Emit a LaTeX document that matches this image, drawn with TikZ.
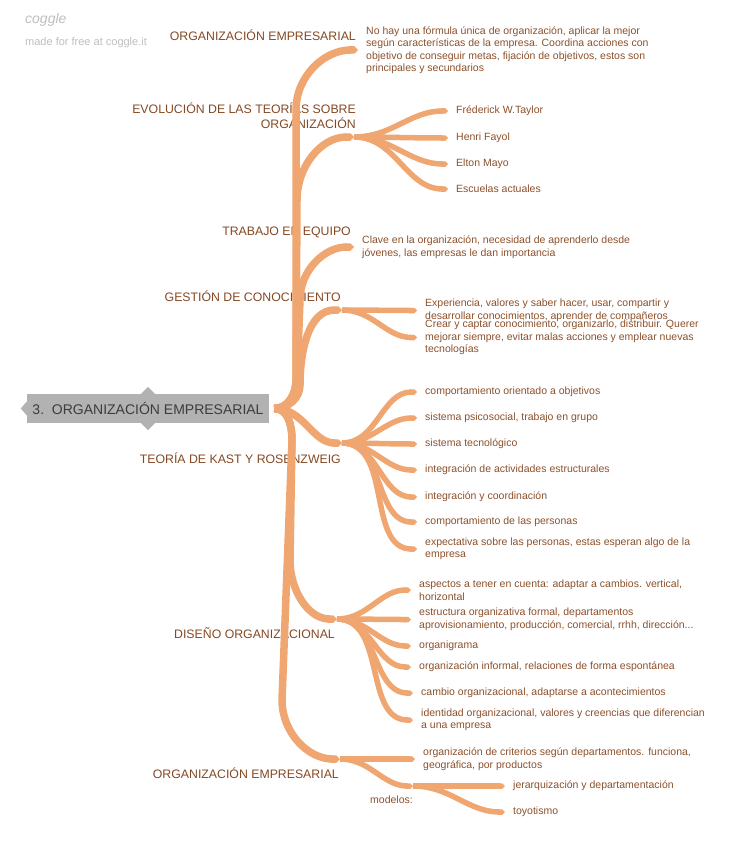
\documentclass[tikz,border=0pt]{standalone}
\usepackage{fontspec}
\setmainfont{Liberation Sans}
\usetikzlibrary{arrows.meta}

\definecolor{limbcol}{RGB}{240,166,112}
\definecolor{inkcol}{RGB}{140,80,42}
\definecolor{lblink}{RGB}{132,72,34}
\definecolor{rootgray}{RGB}{178,178,178}
\definecolor{rootink}{RGB}{60,60,60}
\definecolor{wmgray}{RGB}{190,190,190}

\begin{document}
\begin{tikzpicture}[x=1pt, y=-1pt,
	limb/.style={draw=limbcol, line width=7.5pt, -{Triangle Cap}},
	twig/.style={draw=limbcol, line width=5.5pt, -{Triangle Cap}},
	mainlbl/.style={text=lblink, font=\fontsize{12.3}{15}\selectfont, inner sep=0pt, align=right, anchor=east},
	leaf/.style={text=inkcol, font=\fontsize{10.5}{12.5}\selectfont, anchor=west, inner xsep=8pt, inner ysep=0pt, align=left, yshift=-1pt}]
			\useasboundingbox (0,0) rectangle (734,848);
			
			% watermark
			\node[text=wmgray, font=\itshape\fontsize{14}{14}\selectfont, anchor=west, inner sep=0pt] (wm) at (25,20) {coggle};
			\node[text=wmgray, font=\fontsize{11}{13}\selectfont, anchor=west, inner sep=0pt] (wmsite) at (25,43) {made for free at coggle.it};
			
			% root
			\node[fill=rootgray, minimum width=242pt, minimum height=29pt, inner sep=0pt, text=rootink, font=\fontsize{14}{16}\selectfont] (root) at (148,408.5) {3.\ \ ORGANIZACIÓN EMPRESARIAL};
			\fill[rootgray] ([xshift=-7pt]root.north) -- ([yshift=7pt]root.north) -- ([xshift=7pt]root.north) -- cycle;
			\fill[rootgray] ([xshift=-7pt]root.south) -- ([yshift=-7pt]root.south) -- ([xshift=7pt]root.south) -- cycle;
			\fill[rootgray] ([yshift=7pt]root.west) -- ([xshift=-6pt]root.west) -- ([yshift=-7pt]root.west) -- cycle;
			\coordinate (hub) at ([xshift=5pt]root.east);
			
			% branch ends
			\coordinate (evo) at (354,137);
			\coordinate (gest) at (342,310);
			\coordinate (kast) at (342,443);
			\coordinate (dis) at (337,619);
			\coordinate (orgB) at (340,759);
			\coordinate (mod) at (413,786);
			
			% branch labels
			\node[mainlbl] (orgAL) at (356,35) {ORGANIZACIÓN EMPRESARIAL};
			\node[mainlbl] (evoL) at (356,115.5) {EVOLUCIÓN DE LAS TEORÍAS SOBRE\\ORGANIZACIÓN};
			\node[mainlbl] (trabL) at (351,232) {TRABAJO EN EQUIPO};
			\node[mainlbl] (gestL) at (341,296) {GESTIÓN DE CONOCIMIENTO};
			\node[mainlbl] (kastL) at (341,458) {TEORÍA DE KAST Y ROSENZWEIG};
			\node[mainlbl] (disL) at (335,633) {DISEÑO ORGANIZACIONAL};
			\node[mainlbl] (orgBL) at (339,773) {ORGANIZACIÓN EMPRESARIAL};
			\node[leaf, anchor=east, inner sep=0pt] (modL) at (413,799) {modelos:};
			
			% leaves
			\node[leaf] (noHay) at (358,49) {No hay una fórmula única de organización, aplicar la mejor\\según características de la empresa. Coordina acciones con\\objetivo de conseguir metas, fijación de objetivos, estos son\\principales y secundarios};
			\node[leaf] (tay) at (448,110) {Fréderick W.Taylor};
			\node[leaf] (fay) at (448,137) {Henri Fayol};
			\node[leaf] (may) at (448,163) {Elton Mayo};
			\node[leaf] (esc) at (448,188) {Escuelas actuales};
			\node[leaf] (clave) at (354,246) {Clave en la organización, necesidad de aprenderlo desde\\jóvenes, las empresas le dan importancia};
			\node[leaf] (exper) at (417,309.5) {Experiencia, valores y saber hacer, usar, compartir y\\desarrollar conocimientos, aprender de compañeros};
			\node[leaf] (crear) at (417,336.5) {Crear y captar conocimiento, organizarlo, distribuir. Querer\\mejorar siempre, evitar malas acciones y emplear nuevas\\tecnologías};
			\node[leaf] (k1) at (417,391) {comportamiento orientado a objetivos};
			\node[leaf] (k2) at (417,417) {sistema psicosocial, trabajo en grupo};
			\node[leaf] (k3) at (417,443) {sistema tecnológico};
			\node[leaf] (k4) at (417,469) {integración de actividades estructurales};
			\node[leaf] (k5) at (417,496) {integración y coordinación};
			\node[leaf] (k6) at (417,521) {comportamiento de las personas};
			\node[leaf] (k7) at (417,548) {expectativa sobre las personas, estas esperan algo de la\\empresa};
			\node[leaf] (d1) at (411,589) {aspectos a tener en cuenta: adaptar a cambios. vertical,\\horizontal};
			\node[leaf] (d2) at (411,618.5) {estructura organizativa formal, departamentos\\aprovisionamiento, producción, comercial, rrhh, dirección...};
			\node[leaf] (d3) at (411,645) {organigrama};
			\node[leaf] (d4) at (411,666) {organización informal, relaciones de forma espontánea};
			\node[leaf] (d5) at (413,692) {cambio organizacional, adaptarse a acontecimientos};
			\node[leaf] (d6) at (413,719) {identidad organizacional, valores y creencias que diferencian\\a una empresa};
			\node[leaf] (crit) at (415,758) {organización de criterios según departamentos. funciona,\\geográfica, por productos};
			\node[leaf] (jer) at (505,785) {jerarquización y departamentación};
			\node[leaf] (toy) at (505,811) {toyotismo};
			
			% main branches
			\draw[limb] (hub) to[out=0,in=-90] (296,380) -- (296,110) to[out=90,in=180] (noHay);
			\draw[limb] (hub) to[out=0,in=-90] (296,380) -- (297,200) to[out=90,in=180] (evo);
			\draw[limb] (hub) to[out=0,in=-90] (297,380) -- (300,300) to[out=90,in=180] (clave);
			\draw[limb] (hub) to[out=0,in=-90] (300,385) to[out=90,in=180] (gest);
			\draw[limb] (hub) to[out=0,in=180] (kast);
			\draw[limb] (hub) to[out=0,in=90] (292,440) -- (290,560) to[out=-90,in=180] (dis);
			\draw[limb] (hub) to[out=0,in=90] (292,440) -- (282,700) to[out=-90,in=180] (orgB);
			
			% sub branches
			\draw[twig] (evo) to[out=0,in=180] (tay);
			\draw[twig] (evo) to[out=0,in=180] (fay);
			\draw[twig] (evo) to[out=0,in=180] (may);
			\draw[twig] (evo) to[out=0,in=180] (esc);
			\draw[twig] (gest) to[out=0,in=180] (exper);
			\draw[twig] (gest) to[out=0,in=180] (crear);
			\draw[twig] (kast) to[out=0,in=180] (k1);
			\draw[twig] (kast) to[out=0,in=180] (k2);
			\draw[twig] (kast) to[out=0,in=180] (k3);
			\draw[twig] (kast) to[out=0,in=180] (k4);
			\draw[twig] (kast) to[out=0,in=180] (k5);
			\draw[twig] (kast) to[out=0,in=180] (k6);
			\draw[twig] (kast) to[out=0,in=180] (k7);
			\draw[twig] (dis) to[out=0,in=180] (d1);
			\draw[twig] (dis) to[out=0,in=180] (d2);
			\draw[twig] (dis) to[out=0,in=180] (d3);
			\draw[twig] (dis) to[out=0,in=180] (d4);
			\draw[twig] (dis) to[out=0,in=180] (d5);
			\draw[twig] (dis) to[out=0,in=180] (d6);
			\draw[twig] (orgB) to[out=0,in=180] (crit);
			\draw[twig] (orgB) to[out=0,in=180] (mod);
			\draw[twig] (mod) to[out=0,in=180] (jer);
			\draw[twig] (mod) to[out=0,in=180] (toy);
		\end{tikzpicture}
\end{document}
